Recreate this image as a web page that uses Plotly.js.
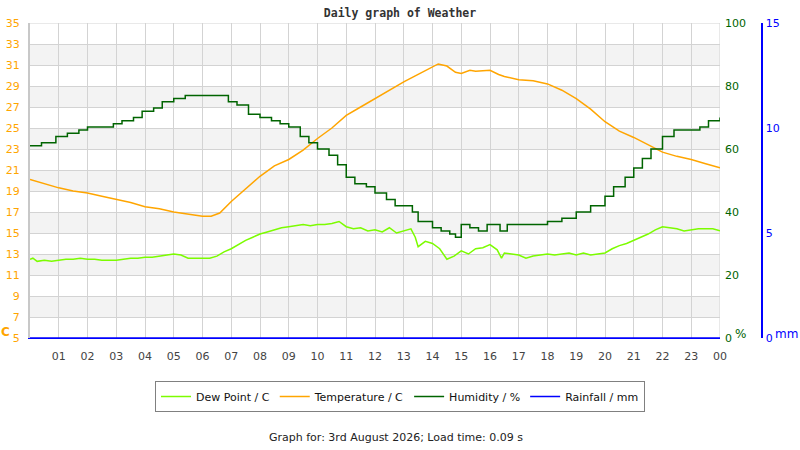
<!DOCTYPE html>
<html>
<head>
<meta charset="utf-8">
<script src="https://cdn.plot.ly/plotly-3.0.1.min.js"></script>
<style>
  body { margin: 0; background: #fff; }
  #chart { width: 800px; height: 450px; }
</style>
</head>
<body>
<div id="chart"></div>
<script>
// hours since midnight
let tempHours = [0, 0.5, 1, 1.5, 2, 2.5, 3, 3.5, 4, 4.5, 5, 5.5, 6, 6.3, 6.6, 7, 7.5, 8, 8.5, 9, 9.5, 10, 10.5, 11, 11.5, 12, 12.5, 13, 13.5, 14, 14.2, 14.5, 14.8, 15, 15.3, 15.5, 16, 16.3, 16.5, 17, 17.5, 18, 18.5, 19, 19.5, 20, 20.5, 21, 21.5, 22, 22.5, 23, 23.5, 24];
let temperature = [20.1, 19.7, 19.3, 19.0, 18.8, 18.5, 18.2, 17.9, 17.5, 17.3, 17.0, 16.8, 16.6, 16.6, 16.9, 18.0, 19.2, 20.4, 21.4, 22.0, 22.9, 24.0, 25.0, 26.2, 27.0, 27.8, 28.6, 29.4, 30.1, 30.8, 31.1, 30.9, 30.3, 30.2, 30.5, 30.4, 30.5, 30.1, 29.9, 29.6, 29.5, 29.2, 28.6, 27.8, 26.8, 25.6, 24.7, 24.1, 23.4, 22.7, 22.3, 22.0, 21.6, 21.2];

let humHours = [0, 0.4, 0.9, 1.3, 1.7, 2.0, 2.5, 2.9, 3.2, 3.6, 3.9, 4.3, 4.6, 5.0, 5.4, 5.8, 6.3, 6.6, 6.9, 7.2, 7.6, 8.0, 8.4, 8.7, 9.0, 9.4, 9.7, 10.0, 10.4, 10.7, 11.0, 11.3, 11.7, 12.0, 12.4, 12.7, 13.0, 13.3, 13.5, 14.0, 14.3, 14.6, 14.8, 15.0, 15.3, 15.6, 15.9, 16.0, 16.35, 16.6, 17.0, 17.5, 18.0, 18.5, 19.0, 19.5, 20.0, 20.3, 20.7, 21.0, 21.3, 21.6, 22.0, 22.4, 22.8, 23.0, 23.3, 23.6, 24.0];
let humidity = [61, 62, 64, 65, 66, 67, 67, 68, 69, 70, 72, 73, 75, 76, 77, 77, 77, 77, 75, 74, 71, 70, 69, 68, 67, 64, 62, 60, 58, 55, 51, 49, 48, 46, 44, 42, 42, 40, 37, 35, 34, 33, 32, 36, 35, 34, 36, 36, 34, 36, 36, 36, 37, 38, 40, 42, 45, 48, 51, 54, 57, 60, 64, 66, 66, 66, 67, 69, 70];

let dewHours = [0, 0.1, 0.25, 0.5, 0.75, 1.0, 1.25, 1.5, 1.75, 2.0, 2.25, 2.5, 2.75, 3.0, 3.25, 3.5, 3.75, 4.0, 4.25, 4.5, 4.75, 5.0, 5.25, 5.5, 5.75, 6.0, 6.25, 6.5, 6.75, 7.0, 7.25, 7.5, 7.75, 8.0, 8.25, 8.5, 8.75, 9.0, 9.25, 9.5, 9.75, 10.0, 10.25, 10.5, 10.75, 11.0, 11.25, 11.5, 11.75, 12.0, 12.25, 12.5, 12.75, 13.0, 13.25, 13.4, 13.5, 13.75, 14.0, 14.25, 14.5, 14.75, 15.0, 15.25, 15.5, 15.75, 16.0, 16.25, 16.4, 16.5, 16.75, 17.0, 17.25, 17.5, 17.75, 18.0, 18.25, 18.5, 18.75, 19.0, 19.25, 19.5, 19.75, 20.0, 20.25, 20.5, 20.75, 21.0, 21.25, 21.5, 21.75, 22.0, 22.25, 22.5, 22.75, 23.0, 23.25, 23.5, 23.75, 24.0];
let dewPoint = [12.5, 12.6, 12.3, 12.4, 12.3, 12.4, 12.5, 12.5, 12.6, 12.5, 12.5, 12.4, 12.4, 12.4, 12.5, 12.6, 12.6, 12.7, 12.7, 12.8, 12.9, 13.0, 12.9, 12.6, 12.6, 12.6, 12.6, 12.8, 13.2, 13.5, 13.9, 14.3, 14.6, 14.9, 15.1, 15.3, 15.5, 15.6, 15.7, 15.8, 15.7, 15.8, 15.8, 15.9, 16.1, 15.6, 15.4, 15.5, 15.2, 15.3, 15.1, 15.5, 15.0, 15.2, 15.4, 14.6, 13.7, 14.2, 14.0, 13.5, 12.5, 12.8, 13.3, 13.0, 13.5, 13.6, 13.9, 13.4, 12.6, 13.1, 13.0, 12.9, 12.6, 12.8, 12.9, 13.0, 12.9, 13.0, 13.1, 12.9, 13.1, 12.9, 13.0, 13.1, 13.5, 13.8, 14.0, 14.3, 14.6, 14.9, 15.3, 15.6, 15.5, 15.4, 15.2, 15.3, 15.4, 15.4, 15.4, 15.2];

let rainHours = [0, 24];
let rainfall = [0, 0];

let hourTicks = [1, 2, 3, 4, 5, 6, 7, 8, 9, 10, 11, 12, 13, 14, 15, 16, 17, 18, 19, 20, 21, 22, 23, 24];
let hourLabels = ['01', '02', '03', '04', '05', '06', '07', '08', '09', '10', '11', '12', '13', '14', '15', '16', '17', '18', '19', '20', '21', '22', '23', '00'];
let tempTicks = [5, 7, 9, 11, 13, 15, 17, 19, 21, 23, 25, 27, 29, 31, 33, 35];
let humTicks = [0, 20, 40, 60, 80, 100];
let rainTicks = [0, 5, 10, 15];

function drawChart() {
  let font = 'DejaVu Sans, sans-serif';

  let data = [
    {
      name: 'Dew Point / C', x: dewHours, y: dewPoint, yaxis: 'y',
      mode: 'lines', line: {color: '#7CFC00', width: 1.5}
    },
    {
      name: 'Temperature / C', x: tempHours, y: temperature, yaxis: 'y',
      mode: 'lines', line: {color: '#FFA500', width: 1.5}
    },
    {
      name: 'Humidity / %', x: humHours, y: humidity, yaxis: 'y2',
      mode: 'lines', line: {color: '#006400', width: 1.5, shape: 'hv'}
    },
    {
      name: 'Rainfall / mm', x: rainHours, y: rainfall, yaxis: 'y3',
      mode: 'lines', line: {color: '#0000FF', width: 1.5}
    }
  ];

  // alternating grey bands every other 2 degrees
  let shapes = [];
  for (let lo = 7; lo < 35; lo += 4) {
    shapes.push({
      type: 'rect', xref: 'x', yref: 'y', x0: 0, x1: 24, y0: lo, y1: lo + 2,
      fillcolor: '#f3f3f3', line: {width: 0}, layer: 'below'
    });
  }
  shapes.push({
    type: 'line', xref: 'x', yref: 'y', x0: 0, x1: 24, y0: 35, y1: 35,
    line: {color: '#d3d3d3', width: 1}, layer: 'below'
  });
  shapes.push({
    type: 'line', xref: 'x', yref: 'y', x0: 24, x1: 24, y0: 5, y1: 35,
    line: {color: '#d3d3d3', width: 1}, layer: 'below'
  });

  let layout = {
    width: 800,
    height: 450,
    margin: {l: 30, r: 30, t: 23, b: 112},
    paper_bgcolor: '#ffffff',
    plot_bgcolor: '#ffffff',
    font: {family: font, size: 11, color: '#333'},
    title: {
      text: '<b>Daily graph of Weather</b>',
      font: {family: 'DejaVu Sans Mono, monospace', size: 11.5, color: '#333'},
      x: 0.5, xanchor: 'center', y: 0.972, yanchor: 'middle'
    },
    showlegend: true,
    legend: {
      orientation: 'h', x: 0.5, xanchor: 'center', y: -(381 - 338) / 315, yanchor: 'top',
      bordercolor: '#808080', borderwidth: 1, bgcolor: '#ffffff',
      font: {family: font, size: 11, color: '#111'},
      itemwidth: 30, tracegroupgap: 0
    },
    xaxis: {
      domain: [0, 690 / 740],
      range: [0, 24],
      tickvals: hourTicks,
      ticktext: hourLabels,
      showgrid: true, gridcolor: '#d3d3d3', gridwidth: 1,
      zeroline: false, showline: true, linecolor: '#0000FF', linewidth: 1,
      ticks: '', ticklabelstandoff: 8,
      tickfont: {family: font, size: 11, color: '#444'}
    },
    yaxis: {
      range: [5, 35],
      tickvals: tempTicks,
      showgrid: true, gridcolor: '#d3d3d3', gridwidth: 1,
      zeroline: false, showline: true, linecolor: '#c8c8c8', linewidth: 2,
      ticks: '', ticklabelstandoff: 6,
      tickfont: {family: font, size: 11, color: '#FFA500'}
    },
    yaxis2: {
      range: [0, 100],
      tickvals: humTicks,
      overlaying: 'y', side: 'right', anchor: 'x',
      showgrid: false, zeroline: false, showline: false, ticks: '',
      ticklabelstandoff: 4,
      tickfont: {family: font, size: 11, color: '#006400'}
    },
    yaxis3: {
      range: [0, 15],
      tickvals: rainTicks,
      overlaying: 'y', side: 'right', anchor: 'free',
      position: (761 - 30) / 740,
      showgrid: false, zeroline: false,
      showline: true, linecolor: '#0000FF', linewidth: 1.5, ticks: '',
      ticklabelstandoff: 1,
      tickfont: {family: font, size: 11, color: '#0000FF'}
    },
    shapes: shapes,
    annotations: [
      {
        text: '<b>C</b>', xref: 'paper', yref: 'paper', x: (5 - 30) / 740, y: 0.02,
        xanchor: 'center', yanchor: 'middle', showarrow: false,
        font: {family: font, size: 12, color: '#FFA500'}
      },
      {
        text: '%', xref: 'paper', yref: 'paper', x: (740 - 30) / 740, y: 0.012,
        xanchor: 'center', yanchor: 'middle', showarrow: false,
        font: {family: font, size: 12, color: '#006400'}
      },
      {
        text: 'mm', xref: 'paper', yref: 'paper', x: (786 - 30) / 740, y: 0.012,
        xanchor: 'center', yanchor: 'middle', showarrow: false,
        font: {family: font, size: 12, color: '#0000FF'}
      },
      {
        text: 'Graph for: 3rd August 2026; Load time: 0.09 s',
        xref: 'paper', yref: 'paper', x: (396 - 30) / 740, y: -(437 - 338) / 315,
        xanchor: 'center', yanchor: 'middle', showarrow: false,
        font: {family: font, size: 11, color: '#222'}
      }
    ]
  };

  Plotly.newPlot('chart', data, layout, {displayModeBar: false, staticPlot: true});
}

drawChart();
</script>
</body>
</html>
